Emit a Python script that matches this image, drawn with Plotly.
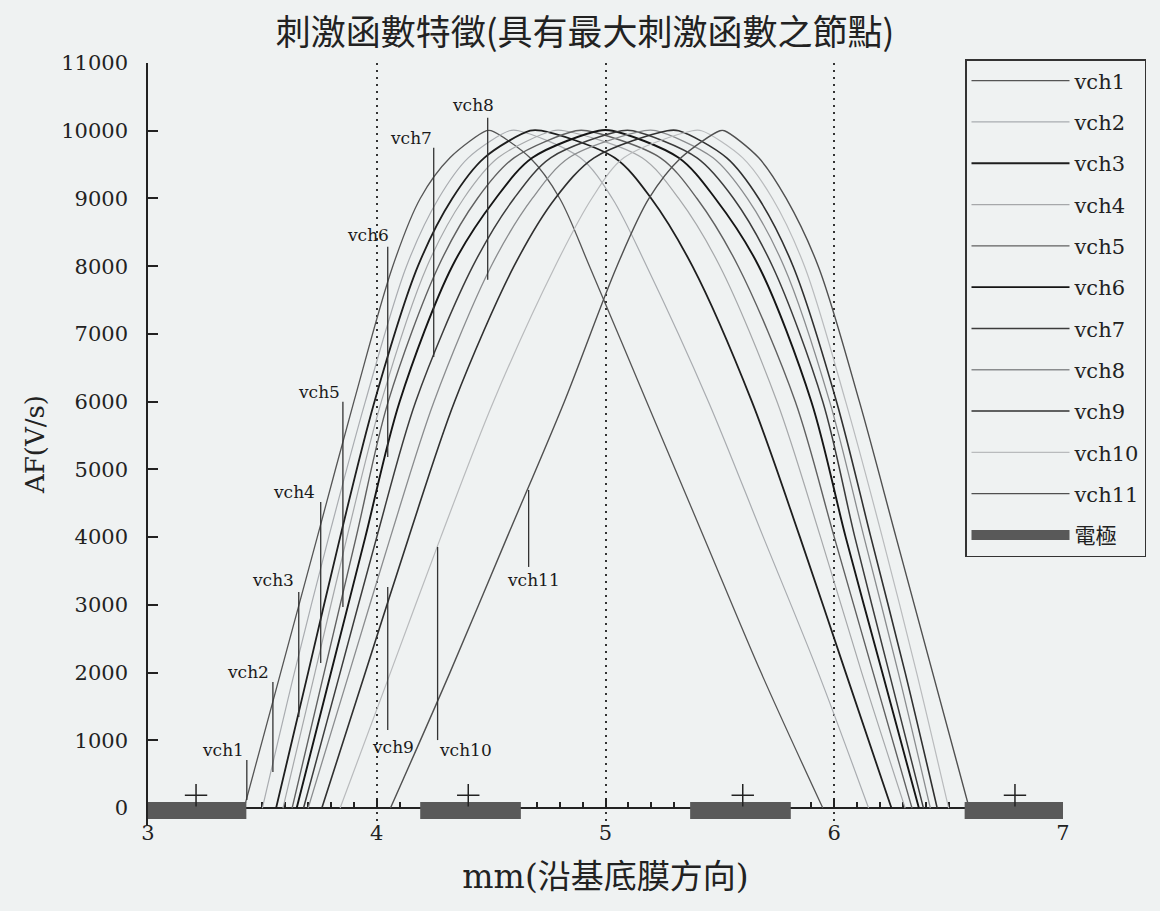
import plotly.graph_objects as go

# ---------------- data ----------------
title_text = "刺激函數特徵(具有最大刺激函數之節點)"
x_title = "mm(沿基底膜方向)"
y_title = "AF(V/s)"

channels = ["vch1", "vch2", "vch3", "vch4", "vch5", "vch6",
            "vch7", "vch8", "vch9", "vch10", "vch11"]

# AF levels (V/s) at which the x positions of each curve were read
af_levels = [0, 2000, 4000, 6000, 8000, 9000, 9600, 10000,
             10000, 9600, 9000, 8000, 6000, 4000, 2000, 0]

vch1_x = [3.42, 3.58, 3.74, 3.90, 4.07, 4.19, 4.32, 4.48,
          4.50, 4.67, 4.80, 4.93, 5.18, 5.43, 5.68, 5.95]
vch2_x = [3.50, 3.64, 3.79, 3.95, 4.13, 4.27, 4.40, 4.58,
          4.62, 4.89, 5.03, 5.18, 5.45, 5.69, 5.93, 6.15]
vch3_x = [3.56, 3.70, 3.84, 3.99, 4.18, 4.33, 4.47, 4.67,
          4.72, 5.04, 5.20, 5.38, 5.64, 5.85, 6.05, 6.25]
vch4_x = [3.59, 3.73, 3.87, 4.02, 4.22, 4.38, 4.53, 4.77,
          4.82, 5.16, 5.32, 5.50, 5.75, 5.94, 6.12, 6.31]
vch5_x = [3.63, 3.77, 3.91, 4.05, 4.27, 4.44, 4.60, 4.87,
          4.92, 5.24, 5.40, 5.58, 5.83, 6.00, 6.17, 6.34]
vch6_x = [3.65, 3.80, 3.95, 4.10, 4.33, 4.52, 4.68, 4.97,
          5.03, 5.32, 5.48, 5.67, 5.90, 6.05, 6.21, 6.37]
vch7_x = [3.68, 3.84, 4.00, 4.17, 4.42, 4.60, 4.76, 5.07,
          5.12, 5.40, 5.56, 5.73, 5.95, 6.09, 6.24, 6.39]
vch8_x = [3.70, 3.88, 4.06, 4.25, 4.50, 4.68, 4.84, 5.17,
          5.22, 5.47, 5.62, 5.78, 5.98, 6.13, 6.28, 6.42]
vch9_x = [3.76, 3.95, 4.14, 4.34, 4.60, 4.78, 4.95, 5.27,
          5.32, 5.53, 5.67, 5.82, 6.01, 6.16, 6.31, 6.45]
vch10_x = [3.84, 4.06, 4.28, 4.51, 4.78, 4.94, 5.08, 5.38,
           5.42, 5.60, 5.73, 5.87, 6.05, 6.21, 6.36, 6.50]
vch11_x = [4.06, 4.32, 4.57, 4.82, 5.05, 5.19, 5.33, 5.50,
           5.52, 5.67, 5.79, 5.93, 6.11, 6.27, 6.43, 6.59]

channel_x = [vch1_x, vch2_x, vch3_x, vch4_x, vch5_x, vch6_x,
             vch7_x, vch8_x, vch9_x, vch10_x, vch11_x]

# electrodes along the basilar membrane (mm)
electrode_name = "電極"
electrode_start = [3.00, 4.19, 5.37, 6.57]
electrode_end = [3.43, 4.63, 5.81, 7.00]
electrode_center = [3.21, 4.40, 5.60, 6.79]

x_ticks = [3, 4, 5, 6, 7]
y_ticks = [0, 1000, 2000, 3000, 4000, 5000, 6000, 7000, 8000, 9000, 10000, 11000]

# channel labels with leader lines (data coordinates)
label_x = [3.33, 3.437, 3.546, 3.638, 3.747, 3.961, 4.148, 4.419, 4.07, 4.389, 4.686]
label_y = [857, 2009, 3368, 4667, 6150, 8463, 9896, 10383, 901, 857, 3368]
leader_x = [3.432, 3.546, 3.659, 3.755, 3.852, 4.048, 4.249, 4.485, 4.048, 4.266, 4.664]
leader_top = [709, 1861, 3190, 4520, 5997, 8286, 9748, 10191, 3264, 3855, 4697]
leader_bottom = [118, 532, 1344, 2142, 2969, 5184, 6661, 7799, 1152, 1004, 3560]

# ---------------- styling ----------------
channel_colors = ["#555555", "#a9acb0", "#1e1e1e", "#a6a8aa", "#606060", "#151515",
                  "#3c3c3c", "#8a8c8e", "#303030", "#b9bbbd", "#505050"]
channel_widths = [1.3, 1.2, 1.8, 1.2, 1.4, 1.9, 1.5, 1.3, 1.6, 1.2, 1.4]

bg = "#eff2f2"
ink = "#222222"
latin = "DejaVu Serif, Noto Sans CJK TC"

y_min = -250
y_max = 11000

fig = go.Figure()

for i, name in enumerate(channels):
    fig.add_trace(go.Scatter(
        x=channel_x[i], y=af_levels, mode="lines", name=name,
        line=dict(color=channel_colors[i], width=channel_widths[i],
                  shape="spline", smoothing=0.9),
        legendgroup=name, hoverinfo="skip",
    ))

# electrodes as thick bars on the axis
ex, ey = [], []
for s, e in zip(electrode_start, electrode_end):
    ex += [s, e, None]
    ey += [-35, -35, None]
fig.add_trace(go.Scatter(
    x=ex, y=ey, mode="lines", name=electrode_name,
    line=dict(color="#595959", width=17),
    legendgroup="electrode", hoverinfo="skip",
))
fig.add_trace(go.Scatter(
    x=electrode_center, y=[190] * len(electrode_center), mode="markers",
    marker=dict(symbol="cross-thin", size=16, line=dict(color=ink, width=1.5)),
    showlegend=False, legendgroup="electrode", cliponaxis=False, hoverinfo="skip",
))

# leader lines
lx, ly = [], []
for x0, t, b in zip(leader_x, leader_top, leader_bottom):
    lx += [x0, x0, None]
    ly += [t, b, None]
fig.add_trace(go.Scatter(
    x=lx, y=ly, mode="lines", line=dict(color="#333333", width=1.3),
    showlegend=False, hoverinfo="skip",
))

for t, x0, y0 in zip(channels, label_x, label_y):
    fig.add_annotation(x=x0, y=y0, text=t, showarrow=False,
                       font=dict(family=latin, size=17, color="#1a1a1a"),
                       xanchor="center", yanchor="middle")

fig.update_layout(
    width=1160, height=911,
    margin=dict(l=148, r=97, t=63, b=86),
    paper_bgcolor=bg, plot_bgcolor=bg,
    font=dict(family=latin, color=ink),
    title=dict(text=title_text, xref="container", yref="container",
               x=585 / 1160, y=1 - 33 / 911, xanchor="center", yanchor="middle",
               font=dict(family="Noto Sans CJK TC", size=35, color=ink)),
    showlegend=True,
    legend=dict(x=(965 - 148) / 915, y=(825 - 59) / 762, xanchor="left", yanchor="top",
                bgcolor=bg, bordercolor="#333333", borderwidth=1.5,
                font=dict(family=latin, size=21, color=ink),
                traceorder="grouped", tracegroupgap=11, itemwidth=98,
                maxheight=700),
    xaxis=dict(range=[3, 7], tickvals=x_ticks, ticktext=[str(v) for v in x_ticks],
               anchor="free", position=(0 - y_min) / (y_max - y_min),
               layer="below traces",
               showline=True, linecolor=ink, linewidth=1.5,
               ticks="inside", ticklen=9, tickwidth=1.5, tickcolor=ink,
               minor=dict(dtick=0.1, ticks="inside", ticklen=5, tickcolor=ink, showgrid=False),
               showgrid=True, gridcolor="#333333", gridwidth=1.5, griddash="2px,5px",
               zeroline=False, ticklabelstandoff=6,
               tickfont=dict(family=latin, size=21, color=ink),
               title=dict(text=x_title, standoff=20,
                          font=dict(family=latin, size=33, color=ink))),
    yaxis=dict(range=[y_min, y_max], tickvals=y_ticks, ticktext=[str(v) for v in y_ticks],
               layer="below traces",
               showline=True, linecolor=ink, linewidth=1.5,
               ticks="inside", ticklen=10, tickwidth=1.5, tickcolor=ink,
               showgrid=False, zeroline=False, ticklabelstandoff=14,
               tickfont=dict(family=latin, size=21, color=ink),
               title=dict(text=y_title, standoff=9,
                          font=dict(family=latin, size=26, color=ink))),
)

fig.write_html(
    "out.html",
    config={"displayModeBar": False},
    post_script="document.body.style.margin='0px';"
                "document.body.style.background='" + bg + "';",
)
